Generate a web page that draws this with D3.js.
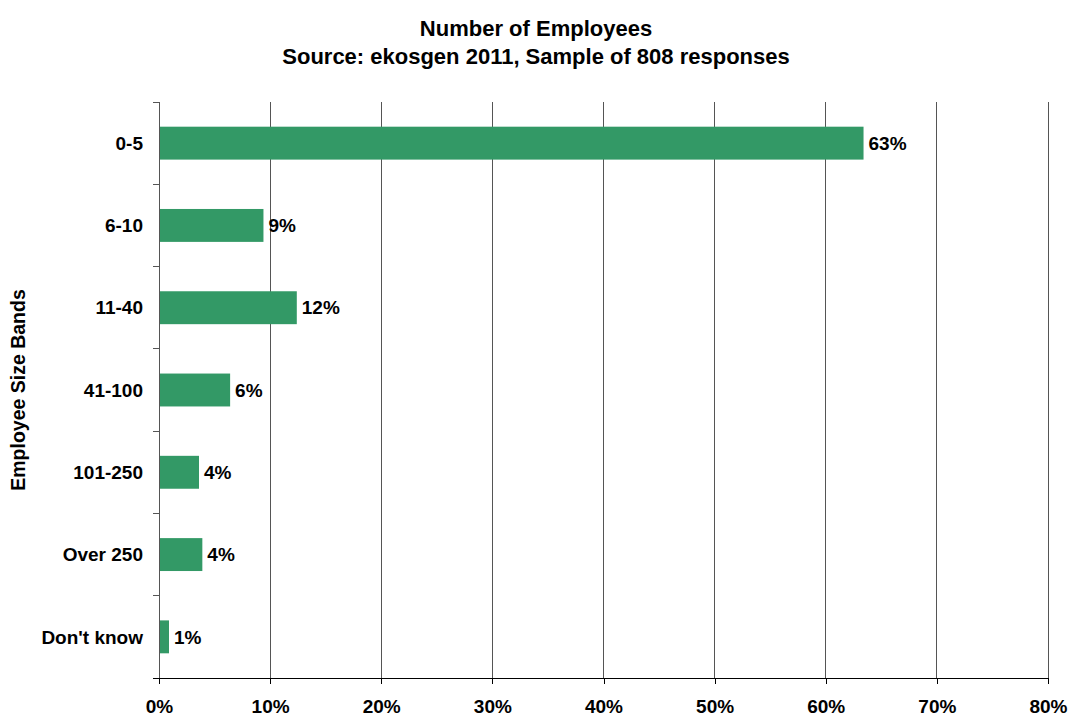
<!DOCTYPE html>
<html>
<head>
<meta charset="utf-8">
<script src="https://cdn.jsdelivr.net/npm/d3@7"></script>
<style>
  html, body { margin: 0; padding: 0; background: #fff; }
  svg { display: block; font-family: "Liberation Sans", Arial, sans-serif; }
</style>
</head>
<body>
<svg id="chart" width="1069" height="716"></svg>
<script>
// Employee size bands and the share of responses in each
const categories = ["0-5", "6-10", "11-40", "41-100", "101-250", "Over 250", "Don't know"];
const shares = [0.634, 0.094, 0.124, 0.064, 0.036, 0.039, 0.009];
const xTickValues = [0, 0.1, 0.2, 0.3, 0.4, 0.5, 0.6, 0.7, 0.8];
const titleLines = ["Number of Employees", "Source: ekosgen 2011, Sample of 808 responses"];
const yAxisTitle = "Employee Size Bands";

const svg = d3.select("#chart");
const margin = { top: 102, right: 21, bottom: 38, left: 159 };
const W = 1069, H = 716;
const innerW = W - margin.left - margin.right;
const innerH = H - margin.top - margin.bottom;

const x = d3.scaleLinear().domain([0, 0.8]).range([0, innerW]);
const y = d3.scaleBand().domain(categories).range([0, innerH])
  .paddingInner(0.6).paddingOuter(0.3);

const g = svg.append("g").attr("transform", `translate(${margin.left},${margin.top})`);

// vertical gridlines
g.append("g").selectAll("line")
  .data(xTickValues.filter(v => v > 0))
  .join("line")
  .attr("x1", d => x(d)).attr("x2", d => x(d))
  .attr("y1", 0).attr("y2", innerH)
  .attr("stroke", "#555").attr("stroke-width", 1)
  .attr("shape-rendering", "crispEdges");

// bars
g.append("g").selectAll("rect")
  .data(categories)
  .join("rect")
  .attr("x", 0)
  .attr("y", d => y(d))
  .attr("width", (d, i) => x(shares[i]))
  .attr("height", y.bandwidth())
  .attr("fill", "#339966");

// value labels
const fmt = d3.format(".0%");
g.append("g").selectAll("text")
  .data(categories)
  .join("text")
  .attr("x", (d, i) => x(shares[i]) + 5)
  .attr("y", d => y(d) + y.bandwidth() / 2)
  .attr("dy", "0.35em")
  .attr("font-size", 19).attr("font-weight", "bold").attr("fill", "#000")
  .text((d, i) => fmt(shares[i]));

// y axis: line, ticks at band boundaries, category labels
const boundaries = d3.range(categories.length + 1).map(i => i * y.step());
g.append("line")
  .attr("x1", 0).attr("x2", 0).attr("y1", 0).attr("y2", innerH)
  .attr("stroke", "#555").attr("shape-rendering", "crispEdges");
g.append("g").selectAll("line")
  .data(boundaries)
  .join("line")
  .attr("x1", -6).attr("x2", 0)
  .attr("y1", d => d).attr("y2", d => d)
  .attr("stroke", "#555").attr("shape-rendering", "crispEdges");
g.append("g").selectAll("text")
  .data(categories)
  .join("text")
  .attr("x", -16)
  .attr("y", d => y(d) + y.bandwidth() / 2)
  .attr("dy", "0.35em")
  .attr("text-anchor", "end")
  .attr("font-size", 19).attr("font-weight", "bold").attr("fill", "#000")
  .text(d => d);

// x axis
const xAxis = d3.axisBottom(x)
  .tickValues(xTickValues)
  .tickFormat(d3.format(".0%"))
  .tickSize(6)
  .tickSizeOuter(0)
  .tickPadding(16);
const xg = g.append("g").attr("transform", `translate(0,${innerH})`).call(xAxis);
xg.select(".domain").remove();
xg.append("line")
  .attr("x1", -6).attr("x2", innerW).attr("y1", 0).attr("y2", 0)
  .attr("stroke", "#000").attr("shape-rendering", "crispEdges");
xg.selectAll(".tick line").attr("stroke", "#000").attr("shape-rendering", "crispEdges");
xg.selectAll(".tick text")
  .attr("font-size", 19).attr("font-weight", "bold").attr("fill", "#000")
  .attr("font-family", "Liberation Sans, Arial, sans-serif");

// title
svg.append("g").selectAll("text")
  .data(titleLines)
  .join("text")
  .attr("x", 536)
  .attr("y", (d, i) => 36 + i * 28)
  .attr("text-anchor", "middle")
  .attr("font-size", 22).attr("font-weight", "bold").attr("fill", "#000")
  .text(d => d);

// y axis title
svg.append("text")
  .attr("transform", `translate(25,${margin.top + innerH / 2}) rotate(-90)`)
  .attr("text-anchor", "middle")
  .attr("font-size", 19.5).attr("font-weight", "bold").attr("fill", "#000")
  .text(yAxisTitle);
</script>
</body>
</html>
